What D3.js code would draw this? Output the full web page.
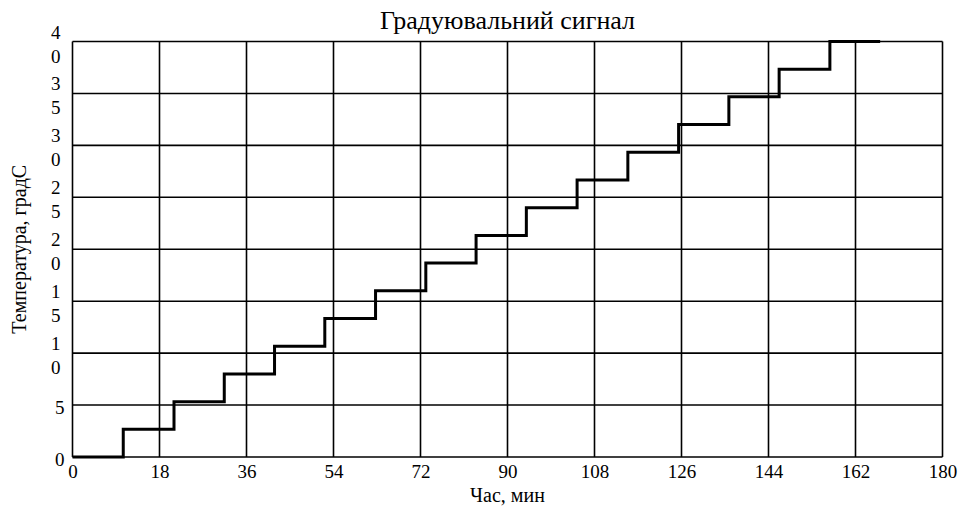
<!DOCTYPE html>
<html>
<head>
<meta charset="utf-8">
<script src="https://cdn.jsdelivr.net/npm/d3@7"></script>
<style>
  body { margin: 0; background: #fff; }
  text { font-family: "Liberation Serif", "DejaVu Serif", serif; fill: #000; }
</style>
</head>
<body>
<svg id="chart" width="960" height="508"></svg>
<script>
// //////// DATA

// moments (min) when the signal steps up, last one is the end of the trace
const stepTimes = [0, 10.5, 21.0, 31.4, 41.8, 52.2, 62.7, 73.1, 83.5, 93.9, 104.4, 114.9, 125.4, 135.8, 146.2, 156.7, 167.1];
// temperature level held from each moment
const stepLevels = [0, 2.67, 5.33, 8.0, 10.67, 13.33, 16.0, 18.67, 21.33, 24.0, 26.67, 29.33, 32.0, 34.67, 37.33, 40.0, 40.0];

const xTicks = [0, 18, 36, 54, 72, 90, 108, 126, 144, 162, 180];
const yTicks = [0, 5, 10, 15, 20, 25, 30, 35, 40];

const titleText = "Градуювальний сигнал";
const xTitle = "Час, мин";
const yTitle = "Температура, градС";

// //////// CHART

const margin = { top: 41.5, right: 17.5, bottom: 51, left: 72.5 };
const width = 960 - margin.left - margin.right;
const height = 508 - margin.top - margin.bottom;

const svg = d3.select("#chart");
const g = svg.append("g").attr("transform", `translate(${margin.left},${margin.top})`);

const x = d3.scaleLinear().domain([0, 180]).range([0, width]);
const y = d3.scaleLinear().domain([0, 40]).range([height, 0]);

// grid lines
g.append("g")
  .selectAll("line.v")
  .data(xTicks)
  .join("line")
  .attr("x1", (d) => x(d))
  .attr("x2", (d) => x(d))
  .attr("y1", 0)
  .attr("y2", height)
  .attr("stroke", "#000")
  .attr("stroke-width", 1.6);

g.append("g")
  .selectAll("line.h")
  .data(yTicks)
  .join("line")
  .attr("x1", 0)
  .attr("x2", width)
  .attr("y1", (d) => y(d))
  .attr("y2", (d) => y(d))
  .attr("stroke", "#000")
  .attr("stroke-width", 1.6);

// x tick labels
const xAxis = d3.axisBottom(x).tickValues(xTicks).tickSize(0).tickPadding(8);
g.append("g")
  .attr("transform", `translate(0,${height})`)
  .call(xAxis)
  .call((ax) => ax.select(".domain").remove())
  .selectAll("text")
  .attr("font-size", 19)
  .attr("font-family", "Liberation Serif");

// y tick labels: digits stacked on top of each other
const yLab = g.append("g");
yTicks.forEach((t) => {
  const chars = String(t).split("");
  const txt = yLab
    .append("text")
    .attr("font-size", 19)
    .attr("text-anchor", "end");
  if (chars.length === 1) {
    txt.attr("x", -8).attr("y", y(t) + 9).text(chars[0]);
  } else {
    chars.forEach((c, i) => {
      txt
        .append("tspan")
        .attr("x", -12)
        .attr("y", y(t) - 3 + i * 24)
        .text(c);
    });
  }
});

// step signal
const line = d3
  .line()
  .x((d, i) => x(stepTimes[i]))
  .y((d) => y(d))
  .curve(d3.curveStepAfter);

g.append("path")
  .datum(stepLevels)
  .attr("fill", "none")
  .attr("stroke", "#000")
  .attr("stroke-width", 3)
  .attr("d", line);

// titles
svg.append("text")
  .attr("x", margin.left + width / 2)
  .attr("y", 29)
  .attr("text-anchor", "middle")
  .attr("font-size", 26)
  .text(titleText);

svg.append("text")
  .attr("x", margin.left + width / 2)
  .attr("y", 502)
  .attr("text-anchor", "middle")
  .attr("font-size", 20)
  .text(xTitle);

svg.append("text")
  .attr("transform", `translate(26,${margin.top + height / 2}) rotate(-90)`)
  .attr("text-anchor", "middle")
  .attr("font-size", 20)
  .text(yTitle);
</script>
</body>
</html>
